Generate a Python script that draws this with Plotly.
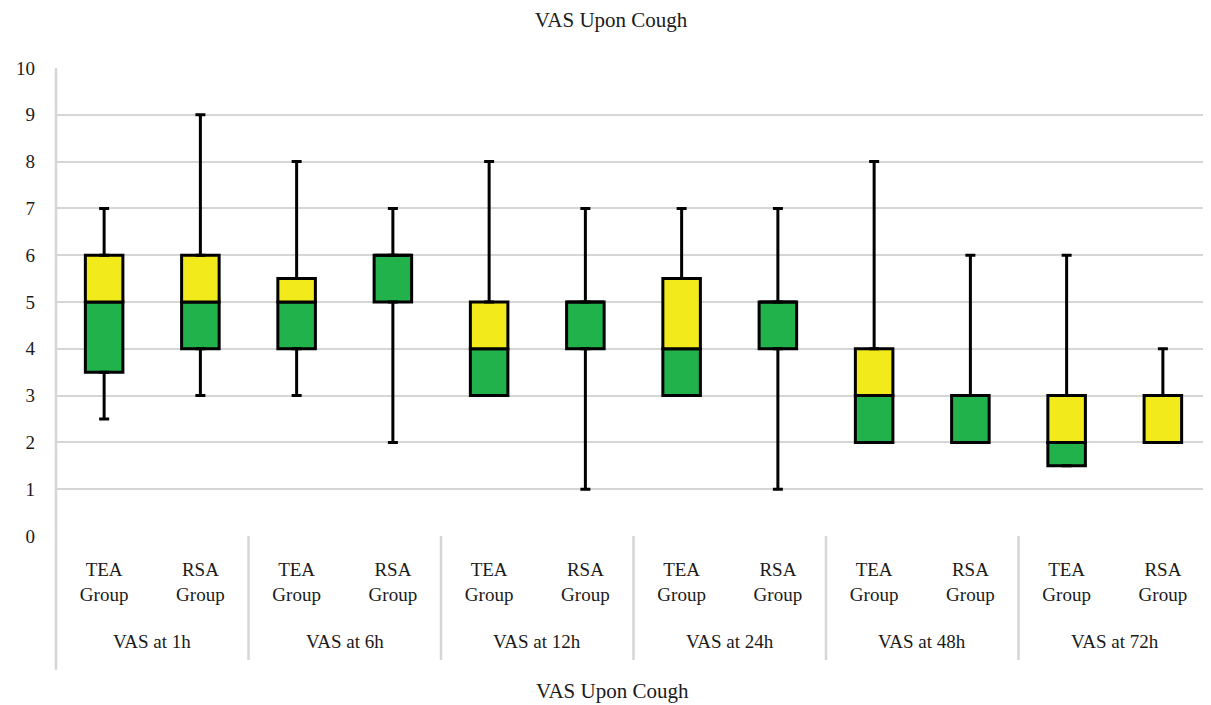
import plotly.graph_objects as go

timepoints = ["VAS at 1h", "VAS at 6h", "VAS at 12h", "VAS at 24h", "VAS at 48h", "VAS at 72h"]
groups = ["TEA<br>Group", "RSA<br>Group"]

# per box: TEA, RSA alternating, in time order
mins    = [2.5, 3, 3,   2, 3, 1, 3,   1, 2, 2, 1.5, 2]
q1s     = [3.5, 4, 4,   5, 3, 4, 3,   4, 2, 2, 1.5, 2]
medians = [5,   5, 5,   6, 4, 5, 4,   5, 3, 3, 2,   2]
q3s     = [6,   6, 5.5, 6, 5, 5, 5.5, 5, 4, 3, 3,   3]
maxs    = [7,   9, 8,   7, 8, 7, 7,   7, 8, 6, 6,   4]

y_ticks = list(range(0, 11))

GREEN = "#22B24C"
YELLOW = "#F2EA1A"
GRID = "#D6D6D6"
FONT = "Liberation Serif"
TXT = "#1a1a1a"

n = len(mins)
xs = list(range(n))
tick_text = [groups[i % 2] for i in xs]

fig = go.Figure()
fig.add_trace(go.Bar(
    x=xs, y=[m - q for m, q in zip(medians, q1s)], base=q1s,
    width=0.39, marker=dict(color=GREEN, line=dict(color="black", width=3)),
    showlegend=False, hoverinfo="skip"))
fig.add_trace(go.Bar(
    x=xs, y=[q - m for q, m in zip(q3s, medians)], base=medians,
    width=0.39, marker=dict(color=YELLOW, line=dict(color="black", width=3)),
    showlegend=False, hoverinfo="skip"))
# upper whiskers
fig.add_trace(go.Scatter(
    x=xs, y=q3s, mode="markers", marker=dict(size=0.1, color="rgba(0,0,0,0)"),
    error_y=dict(type="data", symmetric=False,
                 array=[mx - q for mx, q in zip(maxs, q3s)],
                 arrayminus=[0] * n, color="black", thickness=3, width=5),
    showlegend=False, hoverinfo="skip"))
# lower whiskers
fig.add_trace(go.Scatter(
    x=xs, y=q1s, mode="markers", marker=dict(size=0.1, color="rgba(0,0,0,0)"),
    error_y=dict(type="data", symmetric=False,
                 array=[0] * n,
                 arrayminus=[q - mn for q, mn in zip(q1s, mins)],
                 color="black", thickness=3, width=5),
    showlegend=False, hoverinfo="skip"))

fig.update_layout(
    barmode="overlay",
    width=1211, height=705,
    margin=dict(l=44, r=8, t=60, b=177),
    plot_bgcolor="white", paper_bgcolor="white",
    font=dict(family=FONT, size=19, color=TXT),
    title=dict(text="VAS Upon Cough", x=0.498, xref="container", y=0.983,
               yref="container", yanchor="middle", xanchor="center",
               font=dict(family=FONT, size=21, color=TXT)),
)
fig.update_yaxes(
    range=[0, 10], tickvals=y_ticks, ticktext=[str(v) for v in y_ticks],
    showgrid=True, gridcolor=GRID, gridwidth=2,
    zeroline=False, showline=False, ticks="",
    tickfont=dict(family=FONT, size=19, color=TXT), ticklabelstandoff=20,
)
fig.update_xaxes(
    range=[-0.5, n - 0.5], tickvals=xs, ticktext=tick_text,
    showgrid=False, zeroline=False, showline=False, ticks="",
    tickfont=dict(family=FONT, size=19, color=TXT), ticklabelstandoff=20,
)

# left axis line extending into label area
fig.add_shape(type="line", xref="paper", yref="paper", x0=0, x1=0, y0=1, y1=-0.286,
              line=dict(color=GRID, width=2.5), layer="above")
for k in range(1, len(timepoints) + 1):
    xb = 2 * k - 0.5
    fig.add_shape(type="line", xref="x", yref="paper", x0=xb, x1=xb, y0=0, y1=-0.265,
                  line=dict(color=GRID, width=2.5), layer="above")
for k, t in enumerate(timepoints):
    fig.add_annotation(x=2 * k + 0.5, xref="x", y=-0.225, yref="paper", text=t,
                       showarrow=False, yanchor="middle",
                       font=dict(family=FONT, size=19, color=TXT))
fig.add_annotation(x=0.482, xref="paper", y=-0.331, yref="paper", text="VAS Upon Cough",
                   showarrow=False, yanchor="middle",
                   font=dict(family=FONT, size=21, color=TXT))

fig.write_html("out.html")
